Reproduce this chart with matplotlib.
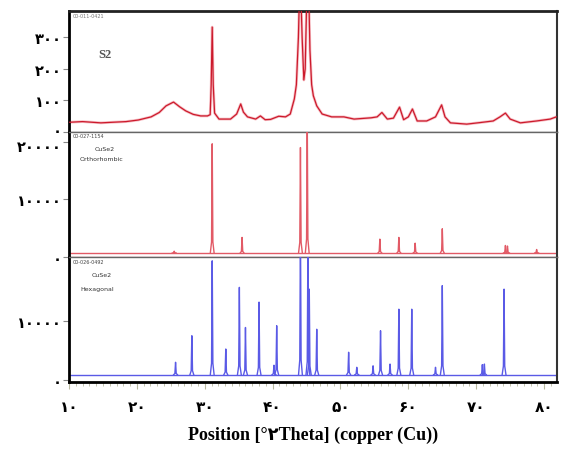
import matplotlib
matplotlib.use("Agg")
import matplotlib.pyplot as plt
from matplotlib.ticker import MultipleLocator
from matplotlib.transforms import ScaledTranslation

# ---- measured pattern of sample S2 (2theta, counts) ----
s2_theta = [10.1, 12.0, 14.7, 16.5, 18.4, 20.2, 22.1, 23.3, 24.3, 25.4, 26.3, 27.2,
            28.3, 29.4, 30.4, 30.8, 30.95, 31.1, 31.25, 31.45, 32.1, 33.8, 34.7,
            35.3, 35.7, 36.3, 37.5, 38.2, 38.9, 39.7, 40.9, 41.9, 42.6, 43.2,
            43.5, 43.8, 44.05, 44.35, 44.6, 44.8, 45.05, 45.25, 45.5, 45.75,
            46.0, 46.5, 47.3, 48.7, 50.5, 52.0, 54.5, 55.4, 56.1, 56.9, 57.8,
            58.7, 59.3, 60.0, 60.6, 61.3, 62.7, 64.0, 64.9, 65.4, 66.2, 68.6,
            70.6, 72.5, 73.5, 74.3, 75.0, 76.5, 78.9, 80.9, 81.8]
s2_counts = [31, 33, 29, 31, 33, 38, 48, 62, 83, 95, 80, 67,
             56, 51, 51, 55, 150, 333, 150, 60, 41, 41, 57,
             89, 63, 48, 41, 51, 39, 40, 50, 48, 57, 105,
             150, 300, 520, 300, 165, 200, 450, 520, 260, 150,
             115, 83, 57, 48, 48, 41, 45, 48, 62, 41, 44,
             79, 39, 48, 73, 35, 35, 48, 86, 48, 29, 25,
             30, 35, 48, 60, 41, 29, 35, 41, 48]

# ---- reference card: CuSe2 orthorhombic (position, intensity) ----
ortho_pos = [25.5, 31.1, 35.5, 44.1, 45.1, 55.8, 58.6, 61.0, 65.0, 74.3, 74.6, 78.9]
ortho_int = [1000, 19650, 3400, 19000, 25000, 3100, 3400, 2400, 4900, 2000, 1900, 1300]
ortho_base = 700

# ---- reference card: CuSe2 hexagonal (position, intensity) ----
hexa_pos = [25.7, 28.1, 31.1, 33.1, 35.1, 36.0, 38.0, 40.2, 40.6, 44.1, 45.2, 45.4,
            46.5, 51.2, 52.4, 54.8, 55.9, 57.3, 58.6, 60.5, 64.0, 65.0, 70.9,
            71.2, 74.1]
hexa_int = [3000, 7500, 20200, 5250, 15700, 8900, 13200, 2500, 9200, 26000, 23000,
            15400, 8600, 4700, 2150, 2400, 8350, 2700, 12000, 12000, 2150, 16000,
            2600, 2700, 15400]
hexa_base = 900

x_ticks = [10, 20, 30, 40, 50, 60, 70, 80]
x_tick_labels = ['۱۰', '۲۰', '۳۰', '۴۰', '۵۰', '۶۰', '۷۰', '۸۰']
top_ticks = [0, 100, 200, 300]
top_tick_labels = ['۰', '۱۰۰', '۲۰۰', '۳۰۰']
mid_ticks = [0, 10000, 20000]
mid_tick_labels = ['۰', '۱۰۰۰۰', '۲۰۰۰۰']
bot_ticks = [0, 10000]
bot_tick_labels = ['۰', '۱۰۰۰۰']

digit_font = ['DejaVu Sans']
serif_font = ['Liberation Serif', 'DejaVu Sans']

W, H = 561, 452
fig = plt.figure(figsize=(W / 100, H / 100), dpi=100)


def frac(px_left, py_top, px_right, py_bottom):
    return [px_left / W, 1 - py_bottom / H, (px_right - px_left) / W, (py_bottom - py_top) / H]


ax_top = fig.add_axes(frac(69, 12, 557, 133))
ax_mid = fig.add_axes(frac(69, 133, 557, 258))
ax_bot = fig.add_axes(frac(69, 258, 557, 383))

XLIM = (10, 81.9)


def draw_sticks(ax, pos, inten, base, color, hw=0.28):
    ax.plot([XLIM[0], XLIM[1]], [base, base], color=color, lw=1.0, zorder=2)
    for p, h in zip(pos, inten):
        d = h - base
        ax.plot([p - hw, p - hw * 0.35, p, p + hw * 0.35, p + hw],
                [base, base + 0.1 * d, h, base + 0.1 * d, base],
                color=color, lw=1.0, zorder=3, solid_joinstyle='round')


# top panel: measured scan
ax_top.plot(s2_theta, s2_counts, color='#e84a5a', lw=2.0, alpha=0.35, zorder=2)
ax_top.plot(s2_theta, s2_counts, color='#cc1a2c', lw=0.9, zorder=3)
ax_top.set_ylim(0, 384)

# middle and bottom panels: reference cards
draw_sticks(ax_mid, ortho_pos, ortho_int, ortho_base, '#e25a66')
ax_mid.set_ylim(0, 21700)
draw_sticks(ax_bot, hexa_pos, hexa_int, hexa_base, '#5a5ae6')
ax_bot.set_ylim(-340, 20850)

for ax, ticks, labels in ((ax_top, top_ticks, top_tick_labels),
                          (ax_mid, mid_ticks, mid_tick_labels),
                          (ax_bot, bot_ticks, bot_tick_labels)):
    ax.set_xlim(*XLIM)
    ax.set_yticks(ticks)
    ax.set_yticklabels(labels, family=digit_font, fontweight='bold', fontsize=10.5)
    ax.tick_params(axis='y', direction='out', length=4, width=0.8, color='#888888', pad=1)
    ax.xaxis.set_major_locator(MultipleLocator(10))
    ax.xaxis.set_minor_locator(MultipleLocator(1))
    ax.tick_params(axis='x', which='both', direction='out', color='#b8b8a0')
    for sp in ax.spines.values():
        sp.set_color('#666666')
        sp.set_linewidth(1.0)
    ax.spines['left'].set_color('black')
    ax.spines['left'].set_linewidth(2.0)
    ax.spines['right'].set_color('#333333')
    ax.spines['right'].set_linewidth(1.5)
    ax.set_facecolor('white')

for ax in (ax_top, ax_mid):
    ax.tick_params(axis='x', which='both', labelbottom=False, length=0)

# nudge the labels that meet at the top/middle boundary slightly apart
lbl_zero_top = ax_top.get_yticklabels()[0]
lbl_zero_top.set_transform(lbl_zero_top.get_transform()
                           + ScaledTranslation(0, 2 / 72, fig.dpi_scale_trans))
lbl_20k = ax_mid.get_yticklabels()[2]
lbl_20k.set_transform(lbl_20k.get_transform()
                      + ScaledTranslation(0, -2.5 / 72, fig.dpi_scale_trans))

ax_top.spines['top'].set_color('#222222')
ax_top.spines['top'].set_linewidth(2.0)
ax_mid.spines['bottom'].set_color('#c05060')
ax_bot.spines['bottom'].set_color('black')
ax_bot.spines['bottom'].set_linewidth(2.0)

ax_bot.set_xticks(x_ticks)
ax_bot.set_xticklabels(x_tick_labels, family=digit_font, fontweight='bold', fontsize=11)
ax_bot.tick_params(axis='x', which='major', length=5, width=0.8, pad=7)
ax_bot.tick_params(axis='x', which='minor', length=3, width=0.6)
ax_bot.set_xlabel('Position [°۲Theta] (copper (Cu))', family=serif_font,
                  fontweight='bold', fontsize=13, labelpad=9)

# panel captions
ax_top.text(0.074, 0.645, 'S2', transform=ax_top.transAxes, family=serif_font,
            fontweight='bold', fontsize=9, color='#555555', ha='center', va='center')
ax_top.text(0.008, 0.965, '00-011-0421', transform=ax_top.transAxes, fontsize=3.5,
            color='#777777', ha='left', va='center')
ax_mid.text(0.008, 0.97, '00-027-1154', transform=ax_mid.transAxes, fontsize=3.5,
            color='#444444', ha='left', va='center')
ax_mid.text(0.074, 0.87, 'CuSe2', transform=ax_mid.transAxes, fontsize=4.5,
            color='#333333', ha='center', va='center')
ax_mid.text(0.066, 0.79, 'Orthorhombic', transform=ax_mid.transAxes, fontsize=4.5,
            color='#333333', ha='center', va='center')
ax_bot.text(0.008, 0.965, '00-026-0492', transform=ax_bot.transAxes, fontsize=3.5,
            color='#444444', ha='left', va='center')
ax_bot.text(0.066, 0.86, 'CuSe2', transform=ax_bot.transAxes, fontsize=4.5,
            color='#333333', ha='center', va='center')
ax_bot.text(0.058, 0.745, 'Hexagonal', transform=ax_bot.transAxes, fontsize=4.5,
            color='#333333', ha='center', va='center')

fig.savefig('out.png', dpi=100, facecolor='white')
